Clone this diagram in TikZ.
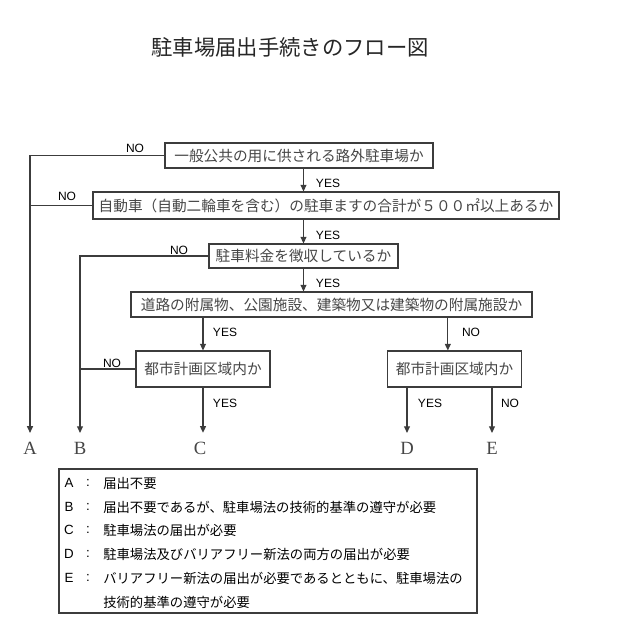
\documentclass[tikz,border=0pt]{standalone}
\usepackage{fontspec}
\setmainfont{Liberation Serif}
\newfontfamily\jp{Noto Sans CJK JP}
\newfontfamily\lat{Liberation Sans}
\usetikzlibrary{arrows.meta}
\definecolor{linegray}{RGB}{60,60,60}
\definecolor{textgray}{RGB}{70,70,70}
\tikzstyle{question}=
[
	rectangle
	, draw=linegray
	, line width=0.8pt
	, fill=white
	, text=textgray
	, font=\jp\fontsize{11}{13}\selectfont
	, inner sep=0pt
]
\tikzstyle{answer}=
[
	font=\lat\fontsize{9}{10}\selectfont
	, text=black
	, inner sep=0pt
]
\tikzstyle{result}=
[
	font=\fontsize{14}{16}\selectfont
	, text=textgray
	, inner sep=1pt
]
\tikzstyle{legendkey}=[font=\lat\fontsize{10}{12}\selectfont, inner sep=0pt]
\tikzstyle{legendrow}=[font=\jp\fontsize{10}{12}\selectfont, anchor=west, inner sep=0pt]
\tikzstyle{arrow} = [line width=0.8pt, draw=linegray, -{Triangle[length=5pt,width=4.5pt]}, shorten >=5.5pt]
\tikzstyle{step arrow} = [line width=0.8pt, draw=linegray, -{Triangle[length=5pt,width=4.5pt]}]
\tikzstyle{line} = [line width=0.8pt, draw=linegray, -]
\begin{document}
\begin{tikzpicture}[x=0.75pt, y=-0.75pt]
\useasboundingbox (0,0) rectangle (635,634);

\node(title)[font=\jp\fontsize{16}{19}\selectfont, text=black!85] at (290,47) {駐車場届出手続きのフロー図};

\node(q1)[question, minimum width=201pt, minimum height=18.75pt] at (299,155.5) {一般公共の用に供される路外駐車場か};
\node(q2)[question, minimum width=349.5pt, minimum height=20.25pt] at (326,205.5) {自動車（自動二輪車を含む）の駐車ますの合計が５００㎡以上あるか};
\node(q3)[question, minimum width=141.75pt, minimum height=18pt] at (303.5,256) {駐車料金を徴収しているか};
\node(q4)[question, minimum width=300.75pt, minimum height=18.75pt] at (331.5,304.5) {道路の附属物、公園施設、建築物又は建築物の附属施設か};
\node(q5)[question, minimum width=100.5pt, minimum height=27pt] at (203,369) {都市計画区域内か};
\node(q6)[question, minimum width=100.5pt, minimum height=27pt] at (454.5,369) {都市計画区域内か};

\node(la)[result] at (30,448) {A};
\node(lb)[result] at (80,448) {B};
\node(lc)[result] at (200,448) {C};
\node(ld)[result] at (407,448) {D};
\node(le)[result] at (492,448) {E};

% NO branches to the left
\draw[arrow](q1.west) -| (la);
\draw[line](q2.west) -- (q2.west -| la);
\draw[arrow](q3.west) -| (lb);
\draw[line](q5.west) -- (q5.west -| lb);

% YES chain
\draw[step arrow](q1.south -| q3) -- (q2.north -| q3);
\draw[step arrow](q2.south -| q3) -- (q3.north);
\draw[step arrow](q3.south) -- (q4.north -| q3);
\draw[step arrow](q4.south -| q5) -- (q5.north);
\draw[step arrow]([xshift=-5pt]q4.south -| q6) -- ([xshift=-5pt]q6.north);
\draw[arrow](q5.south) -- (q5.south |- lc.north);
\draw[arrow](q6.south -| ld) -- (ld);
\draw[arrow](q6.south -| le) -- (le);

\node(no1)[answer] at (135,148) {NO};
\node(no2)[answer] at (67,196) {NO};
\node(no3)[answer] at (179,250) {NO};
\node(no5)[answer] at (112,363) {NO};
\node(no6)[answer] at (471,332) {NO};
\node(no7)[answer] at (510,403) {NO};
\node(yes1)[answer] at (328,183) {YES};
\node(yes2)[answer] at (328,235) {YES};
\node(yes3)[answer] at (328,283) {YES};
\node(yes4)[answer] at (225,332) {YES};
\node(yes5)[answer] at (225,403) {YES};
\node(yes6)[answer] at (430,403) {YES};

% legend
\node(legend)[draw=linegray, line width=0.8pt, minimum width=313.5pt, minimum height=108pt, inner sep=0pt] at (268,541) {};
\node(ka)[legendkey] at (69,483) {A};
\node(kb)[legendkey] at (69,507) {B};
\node(kc)[legendkey] at (69,530) {C};
\node(kd)[legendkey] at (69,554) {D};
\node(ke)[legendkey] at (69,578) {E};
\foreach \y in {483,507,530,554,578}
	\node[legendkey] at (88,\y) {:};
\node(da)[legendrow] at (103,483) {届出不要};
\node(db)[legendrow] at (103,507) {届出不要であるが、駐車場法の技術的基準の遵守が必要};
\node(dc)[legendrow] at (103,530) {駐車場法の届出が必要};
\node(dd)[legendrow] at (103,554) {駐車場法及びバリアフリー新法の両方の届出が必要};
\node(de)[legendrow] at (103,578) {バリアフリー新法の届出が必要であるとともに、駐車場法の};
\node(df)[legendrow] at (103,602) {技術的基準の遵守が必要};

\end{tikzpicture}
\end{document}
